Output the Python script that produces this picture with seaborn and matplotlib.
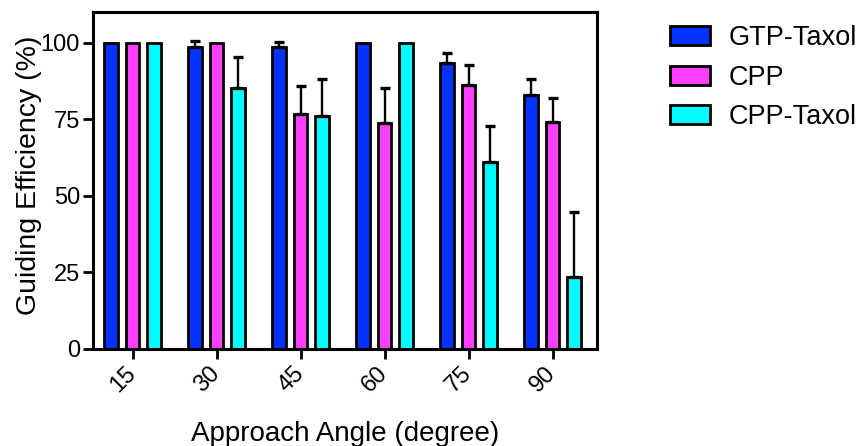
import pandas as pd
import matplotlib
matplotlib.use('Agg')
import matplotlib.pyplot as plt
import seaborn as sns
import numpy as np

angles = ['15', '30', '45', '60', '75', '90']
groups = ['GTP-Taxol', 'CPP', 'CPP-Taxol']
gtp_taxol = [100, 98.5, 98.6, 100, 93.5, 83.0]
cpp = [100, 100, 76.8, 73.9, 86.2, 74.2]
cpp_taxol = [100, 85.1, 76.2, 100, 61.2, 23.6]
# upper error (SEM)
gtp_taxol_err = [0, 2.0, 1.5, 0, 3.2, 5.0]
cpp_err = [0, 0, 9.2, 11.3, 6.4, 7.9]
cpp_taxol_err = [0, 10.2, 11.8, 0, 11.5, 21.2]

colors = ['#0433FF', '#FF40FF', '#00FDFF']

df = pd.DataFrame({
    'angle': angles * 3,
    'group': np.repeat(groups, len(angles)),
    'eff': gtp_taxol + cpp + cpp_taxol,
})
errs = [gtp_taxol_err, cpp_err, cpp_taxol_err]
vals = [gtp_taxol, cpp, cpp_taxol]

sns.set_style('white')
plt.rcParams['font.family'] = ['Liberation Sans', 'DejaVu Sans']
plt.rcParams['text.color'] = 'black'
plt.rcParams['axes.labelcolor'] = 'black'
plt.rcParams['xtick.color'] = 'black'
plt.rcParams['ytick.color'] = 'black'

fig = plt.figure(figsize=(8.62, 4.46), dpi=100)
ax = fig.add_axes([0.108, 0.2175, 0.5846, 0.7555])

sns.barplot(data=df, x='angle', y='eff', hue='group', hue_order=groups,
            palette=colors, saturation=1, errorbar=None, width=0.77, gap=0.36,
            edgecolor='black', linewidth=2.0, ax=ax, legend=True)

for cont, v, e in zip(ax.containers, vals, errs):
    xs = [p.get_x() + p.get_width() / 2 for p in cont.patches]
    for x, y, err in zip(xs, v, e):
        if err > 0:
            ax.errorbar(x, y, yerr=[[0], [err]], fmt='none', ecolor='black',
                        elinewidth=1.7, capsize=3.5, capthick=2.4, zorder=1)

ax.set_ylim(0, 110)
ax.set_xlim(-0.47, 5.53)
ax.set_yticks([0, 25, 50, 75, 100])
for t in ax.yaxis.get_major_ticks():
    if t.get_loc() in (25, 75):
        t.tick1line.set_visible(False)

for s in ax.spines.values():
    s.set_linewidth(2.2)
    s.set_color('black')
ax.tick_params(axis='both', direction='out', length=7, width=2, color='black',
               labelsize=17, left=True, bottom=True, pad=2.5)
ax.tick_params(axis='x', pad=8)
plt.setp(ax.get_xticklabels(), rotation=45, ha='right', va='center',
         rotation_mode='anchor')

ax.set_xlabel('Approach Angle (degree)', fontsize=20, va='baseline')
ax.xaxis.set_label_coords(0.5, -0.272)
ax.set_ylabel('Guiding Efficiency (%)', fontsize=20.5)
ax.yaxis.set_label_coords(-0.102, 0.515)

handles, labels = ax.get_legend_handles_labels()
ax.get_legend().remove()
fig.legend(handles, labels, loc='upper left', bbox_to_anchor=(0.765, 0.968),
           frameon=False, fontsize=19.5, handlelength=1.45, handleheight=0.72,
           handletextpad=0.7, labelspacing=0.5, borderaxespad=0)

plt.savefig('out.png', dpi=100)
